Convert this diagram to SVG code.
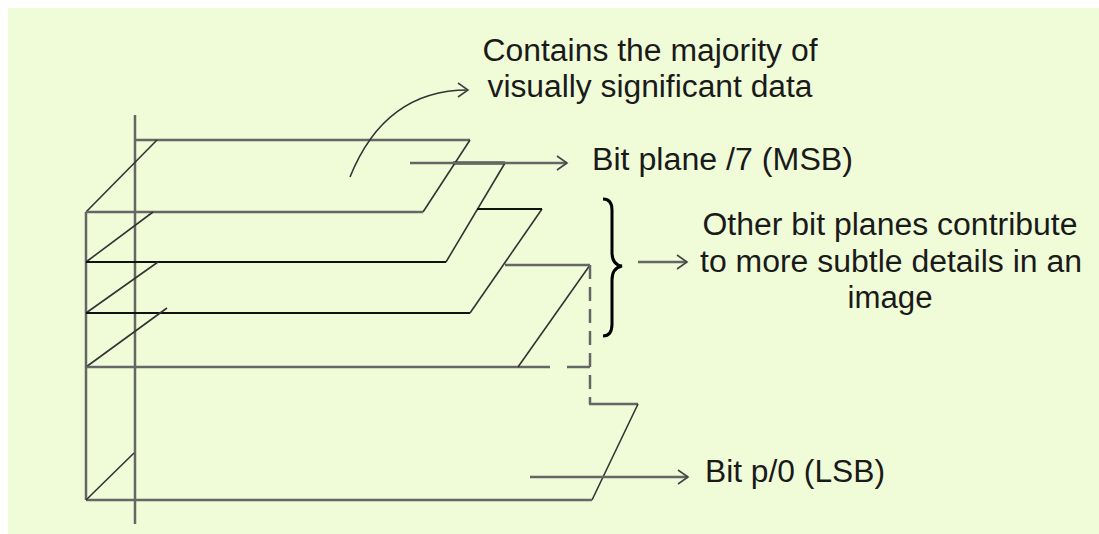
<svg xmlns="http://www.w3.org/2000/svg" width="1099" height="534" viewBox="0 0 1099 534">
  <style>
    .g { stroke: #666; stroke-width: 2.5; fill: none; }
    .k { stroke: #111; stroke-width: 2; fill: none; }
    .d { stroke: #333; stroke-width: 1.6; fill: none; }
    .a { stroke: #666; stroke-width: 2.5; fill: none; marker-end: url(#arr); }
    text { font-family: "Liberation Sans", Arial, sans-serif; font-size: 31px; fill: #1a1a1a; }
  </style>
  <defs>
    <marker id="arr" markerUnits="userSpaceOnUse" markerWidth="20" markerHeight="20" viewBox="-12 -10 14 20" refX="0" refY="0" orient="auto">
      <path d="M-10,-7 L0,0 L-10,7" fill="none" stroke="#444" stroke-width="1.6"/>
    </marker>
  </defs>
  <rect x="8" y="8" width="1091" height="526" fill="#f0fcd8"/>

  <g id="axis">
    <line class="g" x1="135" y1="115" x2="135" y2="524"/>
    <line class="g" x1="86" y1="212" x2="86" y2="500"/>
  </g>

  <g id="plane7">
    <line class="g" x1="135" y1="140" x2="470" y2="140"/>
    <line class="d" x1="86" y1="212" x2="157" y2="140"/>
    <line class="d" x1="470" y1="140" x2="423" y2="212"/>
    <line class="g" x1="86" y1="212" x2="423" y2="212"/>
  </g>

  <g id="plane6">
    <line class="d" x1="86" y1="262" x2="153" y2="212"/>
    <line class="k" x1="86" y1="262" x2="446" y2="262"/>
    <line class="d" x1="505" y1="163" x2="446" y2="262"/>
    <line class="k" x1="453" y1="163" x2="505" y2="163" style="stroke-width:3"/>
  </g>

  <g id="plane5">
    <line class="d" x1="86" y1="313" x2="158" y2="262"/>
    <line class="k" x1="86" y1="313" x2="470" y2="313"/>
    <line class="d" x1="542" y1="209" x2="470" y2="313"/>
    <line class="k" x1="477" y1="209" x2="542" y2="209"/>
  </g>

  <g id="plane4">
    <line class="d" x1="86" y1="367" x2="167" y2="308"/>
    <line class="g" x1="86" y1="367" x2="550" y2="367"/>
    <line class="g" x1="567" y1="367" x2="590" y2="367"/>
    <line class="d" x1="590" y1="265" x2="518" y2="367"/>
    <line class="g" x1="505" y1="265" x2="590" y2="265"/>
    <line class="g" x1="590" y1="265" x2="590" y2="404" stroke-dasharray="14 8"/>
  </g>

  <g id="plane0">
    <line class="g" x1="589" y1="404" x2="638" y2="404"/>
    <line class="d" x1="638" y1="404" x2="592" y2="500"/>
    <line class="g" x1="86" y1="500" x2="592" y2="500"/>
    <line class="d" x1="86" y1="500" x2="134" y2="453"/>
  </g>

  <g id="brace">
    <path d="M603,199 Q612,199 612,210 L612,252 Q612,265 622,266 Q612,268 612,280 L612,324 Q612,336 603,336" fill="none" stroke="#000" stroke-width="3"/>
  </g>

  <g id="connectors">
    <path class="d" d="M350,177 Q385,90 468,90" marker-end="url(#arr)"/>
    <line class="a" x1="410" y1="163" x2="567" y2="163"/>
    <line class="a" x1="638" y1="262" x2="687" y2="262"/>
    <line class="a" x1="530" y1="477" x2="688" y2="477"/>
  </g>

  <g id="labels">
    <text x="650" y="61" text-anchor="middle" textLength="335" lengthAdjust="spacingAndGlyphs">Contains the majority of</text>
    <text x="650" y="97" text-anchor="middle" textLength="325" lengthAdjust="spacingAndGlyphs">visually significant data</text>
    <text x="592" y="170" textLength="261" lengthAdjust="spacingAndGlyphs">Bit plane /7 (MSB)</text>
    <text x="890" y="235" text-anchor="middle" textLength="375" lengthAdjust="spacingAndGlyphs">Other bit planes contribute</text>
    <text x="891" y="272" text-anchor="middle" textLength="382" lengthAdjust="spacingAndGlyphs">to more subtle details in an</text>
    <text x="890" y="308" text-anchor="middle" textLength="85" lengthAdjust="spacingAndGlyphs">image</text>
    <text x="705" y="482" textLength="180" lengthAdjust="spacingAndGlyphs">Bit p/0 (LSB)</text>
  </g>
</svg>
